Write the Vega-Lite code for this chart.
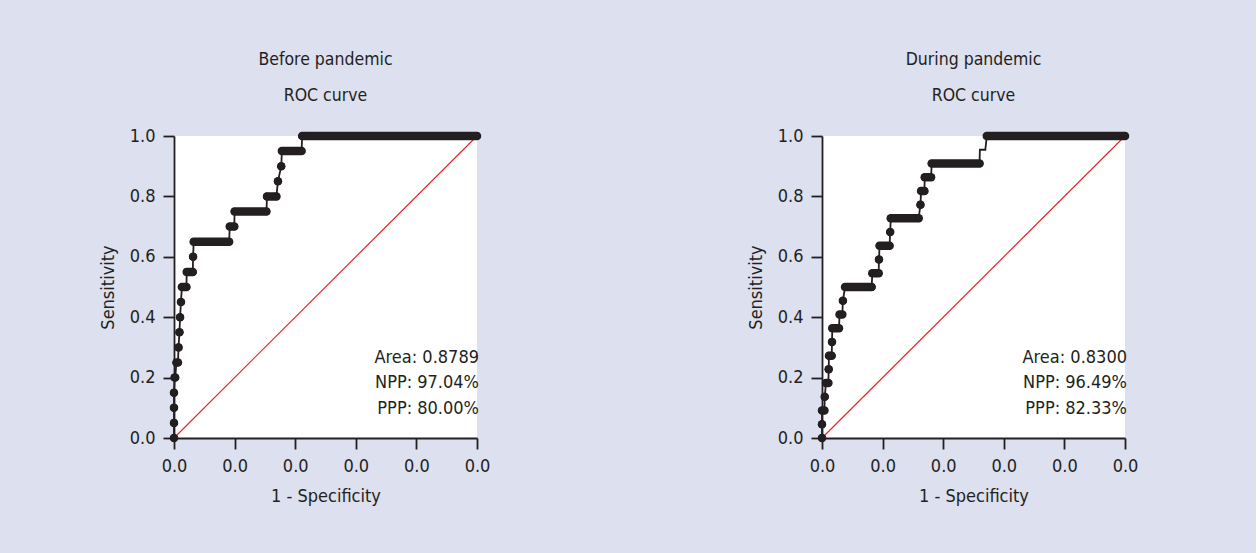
{
  "$schema": "https://vega.github.io/schema/vega-lite/v6.json",
  "background": "#dde0ef",
  "padding": {"left": 99, "top": 50, "right": 118, "bottom": 60},
  "spacing": 345,
  "bounds": "flush",
  "datasets": {
    "before": [
      {"tpr": 0, "x1": 0, "x2": 0},
      {"tpr": 0.05, "x1": 0, "x2": 0},
      {"tpr": 0.10, "x1": 0, "x2": 0},
      {"tpr": 0.15, "x1": 0, "x2": 0},
      {"tpr": 0.20, "x1": 0.002, "x2": 0.004},
      {"tpr": 0.25, "x1": 0.008, "x2": 0.013},
      {"tpr": 0.30, "x1": 0.015, "x2": 0.015},
      {"tpr": 0.35, "x1": 0.018, "x2": 0.018},
      {"tpr": 0.40, "x1": 0.020, "x2": 0.020},
      {"tpr": 0.45, "x1": 0.023, "x2": 0.023},
      {"tpr": 0.50, "x1": 0.026, "x2": 0.041},
      {"tpr": 0.55, "x1": 0.042, "x2": 0.062},
      {"tpr": 0.60, "x1": 0.063, "x2": 0.063},
      {"tpr": 0.65, "x1": 0.065, "x2": 0.182},
      {"tpr": 0.70, "x1": 0.184, "x2": 0.199},
      {"tpr": 0.75, "x1": 0.200, "x2": 0.305},
      {"tpr": 0.80, "x1": 0.307, "x2": 0.338},
      {"tpr": 0.85, "x1": 0.343, "x2": 0.343},
      {"tpr": 0.90, "x1": 0.354, "x2": 0.354},
      {"tpr": 0.95, "x1": 0.356, "x2": 0.421},
      {"tpr": 1.00, "x1": 0.423, "x2": 1.0}
    ],
    "during": [
      {"tpr": 0, "x1": 0, "x2": 0},
      {"tpr": 0.0455, "x1": 0, "x2": 0},
      {"tpr": 0.0909, "x1": 0, "x2": 0.008},
      {"tpr": 0.1364, "x1": 0.009, "x2": 0.009},
      {"tpr": 0.1818, "x1": 0.013, "x2": 0.021},
      {"tpr": 0.2273, "x1": 0.022, "x2": 0.022},
      {"tpr": 0.2727, "x1": 0.023, "x2": 0.032},
      {"tpr": 0.3182, "x1": 0.033, "x2": 0.033},
      {"tpr": 0.3636, "x1": 0.034, "x2": 0.056},
      {"tpr": 0.4091, "x1": 0.058, "x2": 0.067},
      {"tpr": 0.4545, "x1": 0.069, "x2": 0.069},
      {"tpr": 0.5, "x1": 0.076, "x2": 0.164},
      {"tpr": 0.5455, "x1": 0.166, "x2": 0.187},
      {"tpr": 0.5909, "x1": 0.188, "x2": 0.188},
      {"tpr": 0.6364, "x1": 0.190, "x2": 0.223},
      {"tpr": 0.6818, "x1": 0.225, "x2": 0.225},
      {"tpr": 0.7273, "x1": 0.227, "x2": 0.319},
      {"tpr": 0.7727, "x1": 0.325, "x2": 0.325},
      {"tpr": 0.8182, "x1": 0.327, "x2": 0.338},
      {"tpr": 0.8636, "x1": 0.339, "x2": 0.360},
      {"tpr": 0.9091, "x1": 0.362, "x2": 0.520},
      {"tpr": 0.9545, "x1": 0.521, "x2": 0.539, "marked": false},
      {"tpr": 1.0, "x1": 0.544, "x2": 1.0}
    ],
    "chance": [{"d": 0}, {"d": 1}],
    "one": [{}]
  },
  "hconcat": [
    {
      "width": 303,
      "height": 302,
      "title": {"text": ["Before pandemic", "ROC curve"]},
      "layer": [
        {
          "data": {"name": "chance"},
          "mark": {"type": "line", "color": "#e52629", "strokeWidth": 1.2},
          "encoding": {
            "x": {"field": "d", "type": "quantitative", "title": "1 - Specificity", "scale": {"domain": [0, 1], "nice": false, "zero": false},
                  "axis": {"values": [0, 0.2, 0.4, 0.6, 0.8, 1], "labelExpr": "'0.0'"}},
            "y": {"field": "d", "type": "quantitative", "title": "Sensitivity", "scale": {"domain": [0, 1], "nice": false, "zero": false},
                  "axis": {"values": [0, 0.2, 0.4, 0.6, 0.8, 1], "format": ".1f"}}
          }
        },
        {
          "data": {"name": "before"},
          "transform": [{"fold": ["x1", "x2"], "as": ["end", "fpr"]}],
          "mark": {"type": "line", "color": "#231f20", "strokeWidth": 1.8},
          "encoding": {
            "x": {"field": "fpr", "type": "quantitative", "title": "1 - Specificity", "scale": {"domain": [0, 1], "nice": false, "zero": false}},
            "y": {"field": "tpr", "type": "quantitative", "title": "Sensitivity", "scale": {"domain": [0, 1], "nice": false, "zero": false}},
            "order": [{"field": "tpr", "type": "quantitative"}, {"field": "fpr", "type": "quantitative"}]
          }
        },
        {
          "data": {"name": "before"},
          "transform": [{"filter": "datum.marked !== false"}],
          "mark": {"type": "rule", "color": "#231f20", "strokeWidth": 8.5, "strokeCap": "round"},
          "encoding": {
            "x": {"field": "x1", "type": "quantitative", "title": "1 - Specificity", "scale": {"domain": [0, 1], "nice": false, "zero": false}},
            "x2": {"field": "x2"},
            "y": {"field": "tpr", "type": "quantitative", "title": "Sensitivity", "scale": {"domain": [0, 1], "nice": false, "zero": false}}
          }
        },
        {
          "data": {"name": "before"},
          "transform": [{"filter": "datum.marked !== false"}, {"fold": ["x1", "x2"], "as": ["end", "fpr"]}],
          "mark": {"type": "circle", "color": "#231f20", "opacity": 1, "size": 58},
          "encoding": {
            "x": {"field": "fpr", "type": "quantitative", "title": "1 - Specificity", "scale": {"domain": [0, 1], "nice": false, "zero": false}},
            "y": {"field": "tpr", "type": "quantitative", "title": "Sensitivity", "scale": {"domain": [0, 1], "nice": false, "zero": false}}
          }
        },
        {
          "data": {"name": "one"},
          "mark": {"type": "text", "align": "right", "baseline": "alphabetic", "fontSize": 18, "lineHeight": 25.5, "color": "#231f20", "dx": 2,
                   "font": "DejaVu Sans Condensed",
                   "text": ["Area: 0.8789", "NPP: 97.04%", "PPP: 80.00%"]},
          "encoding": {
            "x": {"datum": 1, "type": "quantitative", "title": "1 - Specificity", "scale": {"domain": [0, 1], "nice": false, "zero": false}},
            "y": {"datum": 0.25, "type": "quantitative", "title": "Sensitivity", "scale": {"domain": [0, 1], "nice": false, "zero": false}}
          }
        }
      ]
    },
    {
      "width": 303,
      "height": 302,
      "title": {"text": ["During pandemic", "ROC curve"]},
      "layer": [
        {
          "data": {"name": "chance"},
          "mark": {"type": "line", "color": "#e52629", "strokeWidth": 1.2},
          "encoding": {
            "x": {"field": "d", "type": "quantitative", "title": "1 - Specificity", "scale": {"domain": [0, 1], "nice": false, "zero": false},
                  "axis": {"values": [0, 0.2, 0.4, 0.6, 0.8, 1], "labelExpr": "'0.0'"}},
            "y": {"field": "d", "type": "quantitative", "title": "Sensitivity", "scale": {"domain": [0, 1], "nice": false, "zero": false},
                  "axis": {"values": [0, 0.2, 0.4, 0.6, 0.8, 1], "format": ".1f"}}
          }
        },
        {
          "data": {"name": "during"},
          "transform": [{"fold": ["x1", "x2"], "as": ["end", "fpr"]}],
          "mark": {"type": "line", "color": "#231f20", "strokeWidth": 1.8},
          "encoding": {
            "x": {"field": "fpr", "type": "quantitative", "title": "1 - Specificity", "scale": {"domain": [0, 1], "nice": false, "zero": false}},
            "y": {"field": "tpr", "type": "quantitative", "title": "Sensitivity", "scale": {"domain": [0, 1], "nice": false, "zero": false}},
            "order": [{"field": "tpr", "type": "quantitative"}, {"field": "fpr", "type": "quantitative"}]
          }
        },
        {
          "data": {"name": "during"},
          "transform": [{"filter": "datum.marked !== false"}],
          "mark": {"type": "rule", "color": "#231f20", "strokeWidth": 8.5, "strokeCap": "round"},
          "encoding": {
            "x": {"field": "x1", "type": "quantitative", "title": "1 - Specificity", "scale": {"domain": [0, 1], "nice": false, "zero": false}},
            "x2": {"field": "x2"},
            "y": {"field": "tpr", "type": "quantitative", "title": "Sensitivity", "scale": {"domain": [0, 1], "nice": false, "zero": false}}
          }
        },
        {
          "data": {"name": "during"},
          "transform": [{"filter": "datum.marked !== false"}, {"fold": ["x1", "x2"], "as": ["end", "fpr"]}],
          "mark": {"type": "circle", "color": "#231f20", "opacity": 1, "size": 58},
          "encoding": {
            "x": {"field": "fpr", "type": "quantitative", "title": "1 - Specificity", "scale": {"domain": [0, 1], "nice": false, "zero": false}},
            "y": {"field": "tpr", "type": "quantitative", "title": "Sensitivity", "scale": {"domain": [0, 1], "nice": false, "zero": false}}
          }
        },
        {
          "data": {"name": "one"},
          "mark": {"type": "text", "align": "right", "baseline": "alphabetic", "fontSize": 18, "lineHeight": 25.5, "color": "#231f20", "dx": 2,
                   "font": "DejaVu Sans Condensed",
                   "text": ["Area: 0.8300", "NPP: 96.49%", "PPP: 82.33%"]},
          "encoding": {
            "x": {"datum": 1, "type": "quantitative", "title": "1 - Specificity", "scale": {"domain": [0, 1], "nice": false, "zero": false}},
            "y": {"datum": 0.25, "type": "quantitative", "title": "Sensitivity", "scale": {"domain": [0, 1], "nice": false, "zero": false}}
          }
        }
      ]
    }
  ],
  "config": {
    "font": "DejaVu Sans Condensed",
    "view": {"fill": "white", "stroke": null},
    "axis": {
      "grid": false,
      "domainColor": "#231f20", "domainWidth": 1.8,
      "tickColor": "#231f20", "tickWidth": 1.8, "tickSize": 11,
      "labelFont": "DejaVu Sans Condensed",
      "labelFontSize": 18, "labelColor": "#231f20", "labelFlush": false, "labelOverlap": false,
      "titleFont": "DejaVu Sans Condensed",
      "titleFontSize": 18, "titleFontWeight": "normal", "titleColor": "#231f20"
    },
    "axisX": {"labelPadding": 8, "titlePadding": 12},
    "axisY": {"labelPadding": 8, "titlePadding": 12},
    "title": {
      "font": "DejaVu Sans Condensed",
      "fontSize": 17.5, "fontWeight": "normal", "color": "#231f20",
      "lineHeight": 36, "baseline": "bottom", "offset": 23, "anchor": "middle"
    }
  }
}
